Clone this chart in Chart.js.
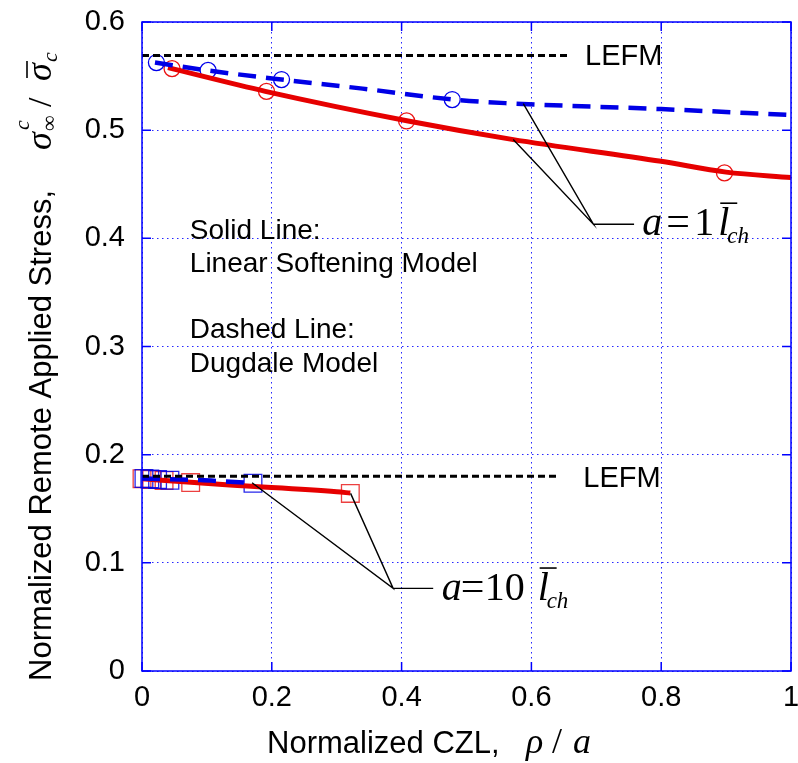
<!DOCTYPE html>
<html>
<head>
<meta charset="utf-8">
<script src="https://cdn.jsdelivr.net/npm/chart.js@4.4.0/dist/chart.umd.min.js"></script>
<style>
  html, body { margin: 0; padding: 0; background: #fff; }
</style>
</head>
<body>
<canvas id="chart" width="798" height="763"></canvas>
<script>
// a = 1 l_ch : Dugdale model (dashed) and linear softening model (solid)
const dugdaleX1 = [0.02, 0.10, 0.215, 0.34, 0.48, 0.56, 0.80, 1.00];
const dugdaleY1 = [0.5625, 0.5553, 0.5468, 0.5384, 0.5283, 0.5250, 0.5195, 0.5140];
const softX1 = [0.04, 0.19, 0.41, 0.57, 0.80, 0.90, 1.00];
const softY1 = [0.5578, 0.5359, 0.5085, 0.4915, 0.4712, 0.4612, 0.4562];

// symbols for a = 1 l_ch
const circBlueX = [0.0222, 0.1018, 0.215, 0.478];
const circBlueY = [0.5625, 0.5553, 0.5468, 0.5283];
const circRedX = [0.0463, 0.1918, 0.4077, 0.8975];
const circRedY = [0.5569, 0.5359, 0.5085, 0.4605];

// a = 10 l_ch
const dugdaleX10 = [0.0, 0.043, 0.09, 0.136, 0.171];
const dugdaleY10 = [0.1780, 0.1772, 0.1765, 0.1749, 0.1738];
const softX10 = [0.0, 0.075, 0.135, 0.30, 0.321];
const softY10 = [0.1778, 0.1744, 0.1719, 0.1657, 0.1645];

const sqBlueX = [0.003, 0.012, 0.024, 0.043, 0.171];
const sqBlueY = [0.1780, 0.1776, 0.1770, 0.1764, 0.1736];
const sqRedX = [0.0, 0.015, 0.034, 0.075, 0.321];
const sqRedY = [0.1778, 0.1770, 0.1762, 0.1742, 0.1642];

// LEFM limits
const lefmX1 = [0, 0.66];
const lefmY1 = 0.569;
const lefmX10 = [0, 0.64];
const lefmY10 = 0.180;

const xTicks = [0, 0.2, 0.4, 0.6, 0.8, 1];
const yTicks = [0, 0.1, 0.2, 0.3, 0.4, 0.5, 0.6];

const SANS = '"Liberation Sans", Arial, sans-serif';
const SERIF = '"Liberation Serif", "Times New Roman", serif';
const BLUE = 'rgb(0,0,230)';
const RED = 'rgb(230,0,0)';

const pts = (xs, ys) => xs.map((x, i) => ({x: x, y: Array.isArray(ys) ? ys[i] : ys}));
const fmt = v => String(+(+v).toFixed(1));

function curve(xs, ys, color, dash) {
    return {
        data: pts(xs, ys), showLine: true, borderColor: color, borderWidth: dash ? 4.5 : 5,
        borderDash: dash || [], pointRadius: 0, cubicInterpolationMode: 'monotone', fill: false
    };
}

function marks(xs, ys, color, style, r) {
    return {
        data: pts(xs, ys), showLine: false, pointStyle: style, pointRadius: r,
        pointBorderColor: color, pointBackgroundColor: 'rgba(0,0,0,0)', pointBorderWidth: 1.3, clip: 14
    };
}

function txt(ctx, s, x, y, font, align) {
    ctx.font = font;
    ctx.textAlign = align || 'left';
    ctx.textBaseline = 'alphabetic';
    ctx.fillText(s, x, y);
}

// "a = n l_ch" label, glyphs laid out from the left of the "a"
function aLabel(ctx, x0, y0, num, off) {
    txt(ctx, 'a', x0, y0, 'italic 40px ' + SERIF);
    txt(ctx, '=', x0 + off[0], y0, '42px ' + SERIF);
    txt(ctx, num, x0 + off[1], y0, '40px ' + SERIF);
    txt(ctx, 'l', x0 + off[2], y0, 'italic 40px ' + SERIF);
    ctx.beginPath();
    ctx.lineWidth = 1.6;
    ctx.moveTo(x0 + off[2] + 2, y0 - 32);
    ctx.lineTo(x0 + off[2] + 19, y0 - 32);
    ctx.stroke();
    txt(ctx, 'ch', x0 + off[2] + 9, y0 + 8, 'italic 23px ' + SERIF);
}

const decor = {
    id: 'decor',
    // plot box: 142 from the left, 22 from the top, 7 from the right
    afterLayout(chart) {
        const {chartArea: a, scales: {x, y}} = chart;
        a.left = 142; a.top = 22; a.right = chart.width - 7;
        a.width = a.right - a.left; a.height = a.bottom - a.top;
        x.left = a.left; x.right = a.right; x.width = a.width;
        y.top = a.top; y.bottom = a.bottom; y.height = a.height;
        x.configure();
        y.configure();
    },
    afterDatasetsDraw(chart) {
        const {ctx, chartArea: a, scales: {x, y}} = chart;
        ctx.save();
        ctx.setLineDash([]);
        ctx.strokeStyle = 'rgb(0,0,255)';
        ctx.lineWidth = 1.5;
        ctx.strokeRect(a.left, a.top, a.right - a.left, a.bottom - a.top);
        ctx.beginPath();
        xTicks.forEach(v => {
            const p = x.getPixelForValue(v);
            ctx.moveTo(p, a.bottom); ctx.lineTo(p, a.bottom - 9);
            ctx.moveTo(p, a.top); ctx.lineTo(p, a.top + 9);
        });
        yTicks.forEach(v => {
            const p = y.getPixelForValue(v);
            ctx.moveTo(a.left, p); ctx.lineTo(a.left + 9, p);
            ctx.moveTo(a.right, p); ctx.lineTo(a.right - 9, p);
        });
        ctx.stroke();
        ctx.restore();
    },
    afterDraw(chart) {
        const {ctx, chartArea: a, scales: {x, y}} = chart;
        const px = v => x.getPixelForValue(v);
        const py = v => y.getPixelForValue(v);
        ctx.save();
        ctx.setLineDash([]);
        ctx.fillStyle = '#000';
        ctx.strokeStyle = '#000';

        // leader lines to the two families of curves
        ctx.lineWidth = 1.4;
        ctx.beginPath();
        ctx.moveTo(px(0.572), py(0.4913)); ctx.lineTo(px(0.6955), py(0.413));
        ctx.lineTo(px(0.5875), py(0.5246));
        ctx.moveTo(px(0.6955), py(0.413)); ctx.lineTo(px(0.7582), py(0.413));
        ctx.moveTo(px(0.1696), py(0.174)); ctx.lineTo(px(0.387), py(0.0764));
        ctx.lineTo(px(0.3214), py(0.1642));
        ctx.moveTo(px(0.387), py(0.0764)); ctx.lineTo(px(0.4487), py(0.0764));
        ctx.stroke();

        aLabel(ctx, px(0.7708), py(0.4029), '1', [24, 52, 76]);
        aLabel(ctx, px(0.4617), py(0.0656), '10', [19, 43, 96]);

        txt(ctx, 'LEFM', px(0.6827), py(0.560), '29px ' + SANS);
        txt(ctx, 'LEFM', px(0.680), py(0.1705), '29px ' + SANS);

        txt(ctx, 'Solid Line:', px(0.0737), py(0.3998), '28px ' + SANS);
        txt(ctx, 'Linear Softening Model', px(0.0737), py(0.369), '28px ' + SANS);
        txt(ctx, 'Dashed Line:', px(0.0737), py(0.3074), '28px ' + SANS);
        txt(ctx, 'Dugdale Model', px(0.0737), py(0.2766), '28px ' + SANS);

        // x axis title
        const xb = a.bottom + 82;
        txt(ctx, 'Normalized CZL,', a.left + 125, xb, '31px ' + SANS);
        txt(ctx, 'ρ', a.left + 384, xb, 'italic 36px ' + SERIF);
        txt(ctx, '/', a.left + 410, xb, '36px ' + SERIF);
        txt(ctx, 'a', a.left + 431, xb, 'italic 36px ' + SERIF);

        // y axis title, rotated
        ctx.translate(51, a.bottom + 10);
        ctx.rotate(-Math.PI / 2);
        txt(ctx, 'Normalized Remote Applied Stress,', 0, 0, '31px ' + SANS);
        txt(ctx, 'σ', 531, 0, 'italic 36px ' + SERIF);
        txt(ctx, '∞', 550, 5, '22px ' + SERIF);
        txt(ctx, 'c', 551, -22, 'italic 22px ' + SERIF);
        txt(ctx, '/', 574, 0, '34px ' + SERIF);
        txt(ctx, 'σ', 600, 0, 'italic 36px ' + SERIF);
        ctx.beginPath();
        ctx.lineWidth = 1.6;
        ctx.moveTo(603, -24); ctx.lineTo(620, -24);
        ctx.stroke();
        txt(ctx, 'c', 619, 6, 'italic 22px ' + SERIF);
        ctx.restore();
    }
};

const lefm = (xs, yv) => ({
    data: pts(xs, yv), showLine: true, borderColor: '#000', borderWidth: 3,
    borderDash: [7, 4], pointRadius: 0
});

new Chart(document.getElementById('chart'), {
    type: 'scatter',
    data: {
        datasets: [
            lefm(lefmX1, lefmY1),
            lefm(lefmX10, lefmY10),
            curve(dugdaleX10, dugdaleY10, BLUE, [18, 10]),
            curve(softX10, softY10, RED),
            curve(dugdaleX1, dugdaleY1, BLUE, [18, 10]),
            curve(softX1, softY1, RED),
            marks(circBlueX, circBlueY, 'rgb(0,0,235)', 'circle', 8),
            marks(circRedX, circRedY, 'rgb(235,20,20)', 'circle', 8),
            marks(sqBlueX, sqBlueY, 'rgba(0,0,230,0.85)', 'rect', 12.5),
            marks(sqRedX, sqRedY, 'rgba(230,0,0,0.75)', 'rect', 12.5)
        ]
    },
    options: {
        responsive: false,
        animation: false,
        layout: { padding: { left: 0, right: 7, top: 22, bottom: 0 } },
        plugins: {
            legend: { display: false },
            tooltip: { enabled: false }
        },
        scales: {
            x: {
                type: 'linear', min: 0, max: 1,
                afterFit(s) { s.height = 92; },
                afterBuildTicks(s) { s.ticks = xTicks.map(v => ({value: v})); },
                ticks: { color: '#000', padding: 10, maxRotation: 0, callback: fmt, font: { family: SANS, size: 29 } },
                grid: { color: 'rgba(0,0,255,0.85)', lineWidth: 1, drawTicks: false },
                border: { display: false, dash: [1.5, 3.5] }
            },
            y: {
                type: 'linear', min: 0, max: 0.6,
                afterFit(s) { s.width = 142; },
                afterBuildTicks(s) { s.ticks = yTicks.map(v => ({value: v})); },
                ticks: { color: '#000', padding: 17, callback: fmt, font: { family: SANS, size: 29 } },
                grid: { color: 'rgba(0,0,255,0.85)', lineWidth: 1, drawTicks: false },
                border: { display: false, dash: [1.5, 3.5] }
            }
        }
    },
    plugins: [decor]
});
</script>
</body>
</html>
